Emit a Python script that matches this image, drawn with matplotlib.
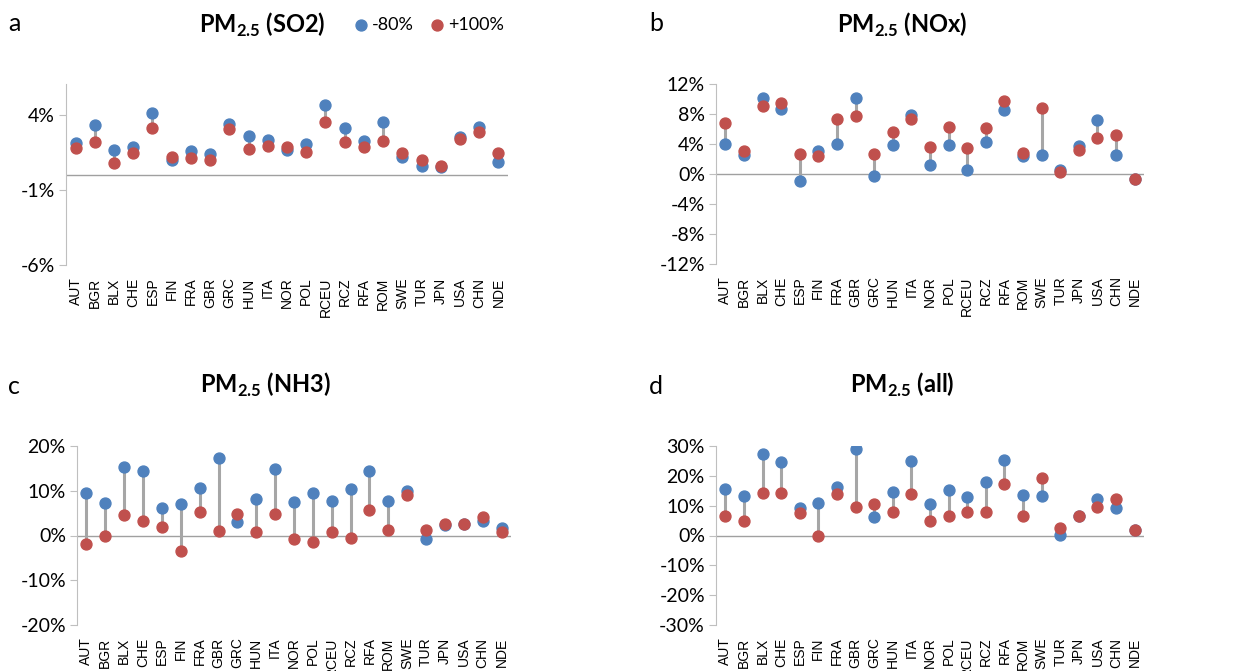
import numpy as np
import matplotlib
matplotlib.use("Agg")
import matplotlib.pyplot as plt
from matplotlib.ticker import FuncFormatter

plt.rcParams['font.family'] = ['Lato', 'DejaVu Sans']
plt.rcParams['mathtext.fontset'] = 'custom'
plt.rcParams['mathtext.rm'] = 'Lato'
plt.rcParams['mathtext.bf'] = 'Lato:bold'

# Regions
regions = ["AUT", "BGR", "BLX", "CHE", "ESP", "FIN", "FRA", "GBR", "GRC", "HUN", "ITA", "NOR",
           "POL", "RCEU", "RCZ", "RFA", "ROM", "SWE", "TUR", "JPN", "USA", "CHN", "NDE"]

# PM2.5 response (%) to -80% and +100% emission changes
so2_minus80 = [2.16, 3.38, 1.67, 1.89, 4.18, 1.00, 1.60, 1.40, 3.40, 2.60, 2.33, 1.67,
               2.09, 4.67, 3.18, 2.29, 3.58, 1.24, 0.64, 0.58, 2.56, 3.22, 0.89]
so2_plus100 = [1.82, 2.20, 0.82, 1.49, 3.18, 1.22, 1.13, 1.02, 3.09, 1.73, 1.96, 1.91,
               1.58, 3.53, 2.24, 1.91, 2.31, 1.51, 1.02, 0.62, 2.42, 2.87, 1.49]

nox_minus80 = [4.04, 2.58, 10.09, 8.67, -0.98, 3.11, 4.04, 10.09, -0.31, 3.91, 7.91, 1.24,
               3.87, 0.49, 4.31, 8.53, 2.36, 2.49, 0.49, 3.69, 7.24, 2.58, -0.71]
nox_plus100 = [6.80, 3.02, 9.02, 9.47, 2.67, 2.36, 7.33, 7.69, 2.67, 5.56, 7.33, 3.64,
               6.31, 3.42, 6.13, 9.69, 2.80, 8.84, 0.22, 3.24, 4.76, 5.16, -0.71]

nh3_minus80 = [9.52, 7.29, 15.39, 14.35, 6.10, 6.99, 10.63, 17.32, 3.12, 8.10, 14.94, 7.43,
               9.44, 7.66, 10.41, 14.35, 7.66, 9.89, -0.82, 2.38, 2.60, 3.27, 1.64]
nh3_plus100 = [-1.93, -0.22, 4.61, 3.20, 2.00, -3.49, 5.35, 0.97, 4.83, 0.82, 4.76, -0.74,
               -1.41, 0.82, -0.67, 5.72, 1.34, 9.07, 1.12, 2.60, 2.60, 4.09, 0.89]

all_minus80 = [15.64, 13.30, 27.26, 24.69, 9.27, 10.95, 16.42, 28.94, 6.15, 14.64, 25.03, 10.50,
               15.20, 12.96, 17.99, 25.36, 13.63, 13.30, 0.11, 6.48, 12.29, 9.16, 1.79]
all_plus100 = [6.70, 4.80, 14.19, 14.08, 7.60, 0.00, 13.85, 9.72, 10.61, 7.93, 13.97, 4.92,
               6.48, 7.71, 7.71, 17.43, 6.48, 19.33, 2.68, 6.48, 9.50, 12.18, 1.79]

blue = "#4F81BD"
red = "#C0504D"

W, H = 1247, 671
fig = plt.figure(figsize=(W / 100, H / 100), dpi=100)

def box(l, r, t, b):
    return [l / W, 1 - b / H, (r - l) / W, (b - t) / H]

panels = [
    ("a", "SO2", so2_minus80, so2_plus100, box(66, 508, 84, 265), (-6, 6.1), [-6, -1, 4], (262, 25), (14, 31)),
    ("b", "NOx", nox_minus80, nox_plus100, box(716, 1144, 84, 264), (-12, 12), [-12, -8, -4, 0, 4, 8, 12], (902, 25), (656, 31)),
    ("c", "NH3", nh3_minus80, nh3_plus100, box(77, 511, 446, 625), (-20, 20), [-20, -10, 0, 10, 20], (265, 385), (14, 394)),
    ("d", "all", all_minus80, all_plus100, box(716, 1144, 446, 625), (-30, 30), [-30, -20, -10, 0, 10, 20, 30], (902, 385), (656, 394)),
]

x = np.arange(len(regions))
for letter, name, lo, hi, pos, ylim, yticks, tpos, lpos in panels:
    ax = fig.add_axes(pos)
    ax.vlines(x, lo, hi, color="#A6A6A6", lw=2.2, zorder=1)
    ax.axhline(0, color="#A0A0A0", lw=1.0, zorder=0)
    b = ax.scatter(x, lo, s=62, color=blue, zorder=2, label="-80%")
    r = ax.scatter(x, hi, s=62, color=red, zorder=3, label="+100%")
    ax.set_xlim(-0.5, len(regions) - 0.5)
    ax.set_ylim(*ylim)
    ax.set_yticks(yticks)
    ax.yaxis.set_major_formatter(FuncFormatter(lambda v, p: f"{v:.0f}%"))
    ax.set_xticks(x)
    ax.set_xticklabels(regions, rotation=90, fontsize=10, family=["Liberation Sans"])
    for s in ["top", "right", "bottom"]:
        ax.spines[s].set_visible(False)
    ax.spines["left"].set_color("#BFBFBF")
    ax.tick_params(axis="y", length=5, color="#BFBFBF", labelsize=14, pad=3)
    ax.tick_params(axis="x", length=0, pad=9)
    fig.text(tpos[0] / W, 1 - tpos[1] / H, r"PM$_{\mathbf{2.5}}$ (" + name + ")",
             fontsize=17, fontweight="bold", ha="center", va="center")
    fig.text(lpos[0] / W, 1 - lpos[1] / H, letter, fontsize=18, ha="center", va="baseline")
    if letter == "a":
        fig.legend(handles=[b, r], loc="center", bbox_to_anchor=(430 / W, 1 - 25 / H), ncol=2,
                   frameon=False, fontsize=13, handlelength=0.6, handletextpad=0.3,
                   columnspacing=1.0, borderpad=0)

fig.savefig("out.png", dpi=100)
